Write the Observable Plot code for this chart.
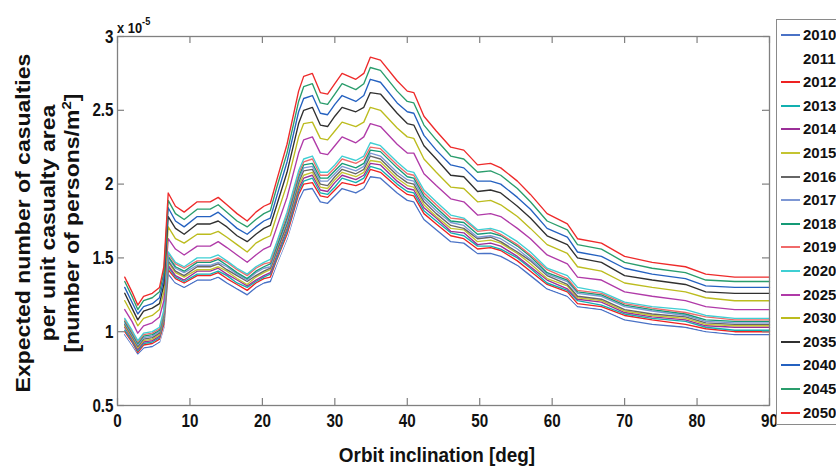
<!DOCTYPE html>
<html>
<head>
<meta charset="utf-8">
<script src="https://cdn.jsdelivr.net/npm/d3@7"></script>
<script src="https://cdn.jsdelivr.net/npm/@observablehq/plot@0.6"></script>
<style>
  body { margin: 0; background: #fff; }
  #wrap { position: relative; width: 836px; height: 469px; overflow: hidden; font-family: "Liberation Sans", Arial, sans-serif; color: #111; }
  #wrap svg { position: absolute; left: 0; top: 0; }
  .ytitle { position: absolute; left: -132px; top: 180px; width: 360px; height: 86px; font-weight: bold; font-size: 23px; line-height: 28.7px; text-align: center; transform: rotate(-90deg) scale(1, 0.87); transform-origin: 50% 50%; white-space: nowrap; }
  .ytitle sup { font-size: 15px; vertical-align: 9px; line-height: 0; }
  .xtitle { position: absolute; left: 237px; width: 400px; top: 443px; text-align: center; font-weight: bold; font-size: 21px; transform: scaleX(0.9); transform-origin: 50% 50%; white-space: nowrap; }
  .expo { position: absolute; left: 117px; top: 20px; font-size: 14px; font-weight: bold; white-space: nowrap; transform: scaleX(0.92); transform-origin: 0 0; }
  .expo sup { font-size: 10px; vertical-align: 8px; line-height: 0; }
  .legend { position: absolute; left: 776px; top: 19px; width: 80px; height: 404px; border: 1px solid #8a8a8a; background: #fff; }
  .legend .item { position: absolute; left: 0; height: 18px; }
  .legend .swatch { position: absolute; left: 4px; top: 8px; width: 19px; height: 0; border-top: 2px solid; }
  .legend .lab { position: absolute; left: 26px; top: 0; font-size: 15px; font-weight: bold; line-height: 18px; }
</style>
</head>
<body>
<div id="wrap"></div>
<script>
// ---------- data (values ×10^-5) ----------
const years = ["2010","2011","2012","2013","2014","2015","2016","2017","2018","2019","2020","2025","2030","2035","2040","2045","2050"];
const colors = ["#4a72c6","#ffffff","#ee2222","#12b0b0","#9b2f98","#c4c431","#666666","#7d97d4","#149a76","#f06a6a","#3fcfd3","#b03aa8","#bcbc1e","#303030","#2461c0","#2a9d6c","#ee2a2a"];
const inclination = [1,2,2.8,3.6,4.8,5.8,6.4,7,8,9.2,11,12.8,13.9,15.1,16.5,17.9,19.1,20.2,21.1,22,23.4,25,25.7,26.9,28,29,30,31,32.9,34,34.9,36.3,38.6,40,40.9,42.3,44,46,47.8,49.7,51.5,52.9,55.2,57,59.3,62.1,63.5,66.8,70,73.8,78.4,81.2,85.2,90];

const y2010 = [0.98,0.91,0.85,0.89,0.90,0.93,1.03,1.39,1.33,1.30,1.35,1.35,1.37,1.33,1.29,1.25,1.30,1.33,1.34,1.46,1.63,1.89,1.96,1.97,1.88,1.87,1.92,1.97,1.94,1.97,2.05,2.04,1.94,1.89,1.88,1.76,1.69,1.61,1.60,1.53,1.53,1.51,1.45,1.38,1.29,1.24,1.17,1.15,1.08,1.05,1.03,1.00,0.98,0.98];
const y2011 = [0.99,0.92,0.86,0.90,0.91,0.94,1.04,1.41,1.34,1.31,1.36,1.36,1.38,1.35,1.30,1.27,1.31,1.34,1.36,1.47,1.64,1.91,1.98,1.99,1.90,1.89,1.94,1.99,1.96,1.99,2.07,2.06,1.96,1.91,1.90,1.78,1.71,1.63,1.62,1.54,1.55,1.53,1.46,1.40,1.30,1.25,1.18,1.16,1.09,1.07,1.04,1.01,0.99,0.99];
const y2012 = [1.00,0.93,0.86,0.91,0.92,0.95,1.05,1.42,1.36,1.33,1.38,1.38,1.40,1.36,1.32,1.28,1.33,1.36,1.37,1.49,1.66,1.93,2.00,2.01,1.92,1.91,1.96,2.01,1.99,2.01,2.10,2.08,1.98,1.93,1.92,1.80,1.73,1.65,1.63,1.56,1.57,1.55,1.48,1.41,1.32,1.27,1.19,1.17,1.11,1.08,1.05,1.02,1.00,1.00];
const y2013 = [1.01,0.94,0.87,0.92,0.93,0.96,1.07,1.44,1.37,1.34,1.39,1.39,1.41,1.38,1.33,1.30,1.34,1.37,1.39,1.50,1.68,1.95,2.02,2.04,1.94,1.93,1.98,2.04,2.01,2.04,2.12,2.10,2.00,1.95,1.94,1.82,1.75,1.67,1.65,1.58,1.58,1.56,1.50,1.43,1.33,1.28,1.21,1.18,1.12,1.09,1.07,1.03,1.01,1.01];
const y2014 = [1.03,0.95,0.88,0.93,0.94,0.97,1.08,1.45,1.38,1.35,1.41,1.41,1.43,1.39,1.35,1.31,1.35,1.38,1.40,1.52,1.70,1.97,2.04,2.06,1.96,1.95,2.01,2.06,2.03,2.06,2.14,2.13,2.02,1.97,1.96,1.84,1.77,1.68,1.67,1.59,1.60,1.58,1.51,1.44,1.35,1.29,1.22,1.20,1.13,1.10,1.08,1.04,1.03,1.03];
const y2015 = [1.04,0.96,0.89,0.94,0.95,0.98,1.09,1.47,1.40,1.37,1.42,1.42,1.44,1.41,1.36,1.32,1.37,1.40,1.42,1.54,1.72,1.99,2.06,2.08,1.98,1.97,2.03,2.08,2.05,2.08,2.16,2.15,2.04,1.99,1.98,1.86,1.78,1.70,1.69,1.61,1.62,1.60,1.53,1.46,1.36,1.31,1.23,1.21,1.14,1.11,1.09,1.05,1.04,1.04];
const y2016 = [1.05,0.97,0.90,0.95,0.96,0.99,1.10,1.48,1.41,1.38,1.44,1.44,1.46,1.42,1.38,1.34,1.38,1.41,1.43,1.55,1.73,2.01,2.09,2.10,2.00,1.99,2.05,2.10,2.07,2.10,2.19,2.17,2.06,2.01,2.00,1.88,1.80,1.72,1.70,1.63,1.64,1.61,1.54,1.48,1.38,1.32,1.24,1.22,1.15,1.12,1.10,1.06,1.05,1.05];
const y2017 = [1.06,0.98,0.91,0.96,0.97,1.00,1.11,1.50,1.43,1.40,1.45,1.45,1.47,1.44,1.39,1.35,1.40,1.43,1.44,1.57,1.75,2.03,2.11,2.12,2.02,2.02,2.07,2.12,2.09,2.12,2.21,2.19,2.08,2.03,2.02,1.90,1.82,1.74,1.72,1.64,1.65,1.63,1.56,1.49,1.39,1.34,1.26,1.24,1.17,1.14,1.11,1.07,1.06,1.06];
const y2018 = [1.07,0.99,0.92,0.97,0.98,1.01,1.12,1.51,1.44,1.41,1.47,1.47,1.49,1.45,1.40,1.36,1.41,1.44,1.46,1.58,1.77,2.05,2.13,2.14,2.04,2.04,2.09,2.14,2.11,2.14,2.23,2.22,2.11,2.05,2.04,1.92,1.84,1.75,1.74,1.66,1.67,1.65,1.58,1.51,1.40,1.35,1.27,1.25,1.18,1.15,1.12,1.08,1.07,1.07];
const y2019 = [1.08,1.00,0.93,0.98,0.99,1.02,1.13,1.53,1.46,1.43,1.48,1.48,1.50,1.47,1.42,1.38,1.43,1.46,1.47,1.60,1.79,2.07,2.15,2.17,2.06,2.06,2.11,2.17,2.14,2.17,2.25,2.24,2.13,2.07,2.06,1.94,1.86,1.77,1.76,1.68,1.69,1.66,1.59,1.52,1.42,1.36,1.28,1.26,1.19,1.16,1.13,1.10,1.08,1.08];
const y2020 = [1.09,1.01,0.94,0.99,1.00,1.03,1.15,1.54,1.47,1.44,1.50,1.50,1.52,1.48,1.43,1.39,1.44,1.47,1.49,1.61,1.81,2.09,2.17,2.19,2.08,2.08,2.13,2.19,2.16,2.19,2.28,2.26,2.15,2.09,2.08,1.96,1.88,1.79,1.77,1.69,1.70,1.68,1.61,1.54,1.43,1.38,1.30,1.27,1.20,1.17,1.15,1.11,1.09,1.09];
const y2025 = [1.15,1.07,0.99,1.04,1.06,1.10,1.21,1.63,1.56,1.52,1.58,1.58,1.61,1.57,1.52,1.47,1.52,1.56,1.58,1.71,1.91,2.21,2.30,2.32,2.21,2.20,2.26,2.32,2.28,2.32,2.41,2.39,2.27,2.21,2.21,2.07,1.99,1.90,1.88,1.79,1.80,1.78,1.70,1.63,1.52,1.46,1.37,1.35,1.27,1.24,1.21,1.17,1.15,1.15];
const y2030 = [1.21,1.12,1.04,1.09,1.11,1.15,1.27,1.71,1.63,1.60,1.66,1.66,1.68,1.64,1.59,1.54,1.60,1.63,1.65,1.79,2.00,2.32,2.41,2.42,2.31,2.30,2.36,2.42,2.39,2.42,2.52,2.50,2.38,2.32,2.31,2.17,2.08,1.98,1.97,1.88,1.89,1.86,1.78,1.70,1.59,1.53,1.44,1.41,1.33,1.30,1.27,1.23,1.21,1.21];
const y2035 = [1.26,1.16,1.08,1.14,1.16,1.19,1.32,1.78,1.70,1.66,1.73,1.73,1.75,1.71,1.65,1.61,1.66,1.70,1.72,1.86,2.08,2.41,2.50,2.52,2.40,2.39,2.46,2.52,2.49,2.52,2.62,2.61,2.48,2.41,2.40,2.26,2.17,2.06,2.05,1.95,1.96,1.94,1.85,1.77,1.65,1.59,1.50,1.47,1.38,1.35,1.32,1.27,1.26,1.26];
const y2040 = [1.30,1.20,1.12,1.17,1.19,1.23,1.36,1.84,1.75,1.71,1.78,1.78,1.81,1.76,1.70,1.66,1.71,1.75,1.77,1.92,2.15,2.49,2.58,2.60,2.48,2.47,2.54,2.60,2.56,2.60,2.71,2.69,2.55,2.49,2.48,2.33,2.23,2.13,2.11,2.02,2.02,2.00,1.91,1.83,1.70,1.64,1.54,1.51,1.43,1.39,1.36,1.31,1.30,1.30];
const y2045 = [1.34,1.24,1.15,1.21,1.23,1.27,1.40,1.89,1.80,1.76,1.83,1.83,1.86,1.81,1.75,1.71,1.76,1.80,1.82,1.98,2.21,2.56,2.66,2.68,2.55,2.54,2.61,2.68,2.64,2.68,2.79,2.77,2.63,2.56,2.55,2.40,2.30,2.19,2.17,2.08,2.09,2.06,1.97,1.88,1.75,1.69,1.59,1.56,1.47,1.43,1.40,1.35,1.34,1.34];
const y2050 = [1.37,1.27,1.18,1.24,1.26,1.30,1.44,1.94,1.85,1.81,1.88,1.88,1.91,1.86,1.80,1.75,1.81,1.85,1.87,2.03,2.27,2.63,2.73,2.75,2.62,2.61,2.68,2.75,2.71,2.75,2.86,2.84,2.70,2.63,2.62,2.46,2.36,2.25,2.23,2.13,2.14,2.11,2.02,1.93,1.80,1.73,1.63,1.60,1.51,1.47,1.44,1.39,1.37,1.37];

const seriesValues = [y2010,y2011,y2012,y2013,y2014,y2015,y2016,y2017,y2018,y2019,y2020,y2025,y2030,y2035,y2040,y2045,y2050];
const xTicks = [0,10,20,30,40,50,60,70,80,90];
const yTicks = [0.5,1,1.5,2,2.5,3];

// ---------- chart ----------
const table = years.flatMap((yr, k) => seriesValues[k].map((v, i) => ({x: inclination[i], y: v, year: yr})));

const W = 836, H = 469, mT = 36, mB = 64, mL = 117, mR = 67;
const frameH = H - mT - mB, frameW = W - mL - mR, tickLen = 7;
const axisColor = "#808080";

const chart = Plot.plot({
  width: W, height: H,
  marginTop: mT, marginBottom: mB, marginLeft: mL, marginRight: mR,
  x: {domain: [0, 90]},
  y: {domain: [0.5, 3]},
  color: {domain: years, range: colors},
  style: {fontFamily: '"Liberation Sans", Arial, sans-serif', fontWeight: "bold", fontSize: "19px", color: "#111", background: "white", overflow: "visible"},
  marks: [
    Plot.line(table, {x: "x", y: "y", z: "year", stroke: "year", strokeWidth: 1.35}),
    Plot.frame({stroke: axisColor, strokeWidth: 1.3}),
    Plot.tickX(xTicks, {x: d => d, insetTop: frameH - tickLen, stroke: axisColor, strokeWidth: 1.2}),
    Plot.tickX(xTicks, {x: d => d, insetBottom: frameH - tickLen, stroke: axisColor, strokeWidth: 1.2}),
    Plot.tickY(yTicks, {y: d => d, insetRight: frameW - tickLen, stroke: axisColor, strokeWidth: 1.2}),
    Plot.tickY(yTicks, {y: d => d, insetLeft: frameW - tickLen, stroke: axisColor, strokeWidth: 1.2}),
    Plot.axisX({ticks: xTicks, tickSize: 0, tickPadding: 8, tickFormat: d => String(d), label: null, fontSize: 19}),
    Plot.axisY({ticks: yTicks, tickSize: 0, tickPadding: 4, tickFormat: d => String(d), label: null, fontSize: 19})
  ]
});

// narrow the tick labels (the original uses a condensed face)
chart.querySelectorAll('[aria-label$="tick label"] text').forEach(t => {
  const tr = t.getAttribute("transform");
  if (tr) t.setAttribute("transform", tr + " scale(0.8,1)");
});

const wrap = document.getElementById("wrap");
wrap.appendChild(chart);

// titles
const yt = document.createElement("div");
yt.className = "ytitle";
yt.innerHTML = "Expected number of casualties<br>per unit casualty area<br>[number of persons/m<sup>2</sup>]";
wrap.appendChild(yt);

const xt = document.createElement("div");
xt.className = "xtitle";
xt.textContent = "Orbit inclination [deg]";
wrap.appendChild(xt);

const ex = document.createElement("div");
ex.className = "expo";
ex.innerHTML = "x 10<sup>-5</sup>";
wrap.appendChild(ex);

// legend
const lg = document.createElement("div");
lg.className = "legend";
years.forEach((yr, i) => {
  const it = document.createElement("div");
  it.className = "item";
  it.style.top = (6 + i * 23.6) + "px";
  const sw = document.createElement("div");
  sw.className = "swatch";
  sw.style.borderTopColor = colors[i];
  const lb = document.createElement("div");
  lb.className = "lab";
  lb.textContent = yr;
  it.appendChild(sw); it.appendChild(lb);
  lg.appendChild(it);
});
wrap.appendChild(lg);
</script>
</body>
</html>
